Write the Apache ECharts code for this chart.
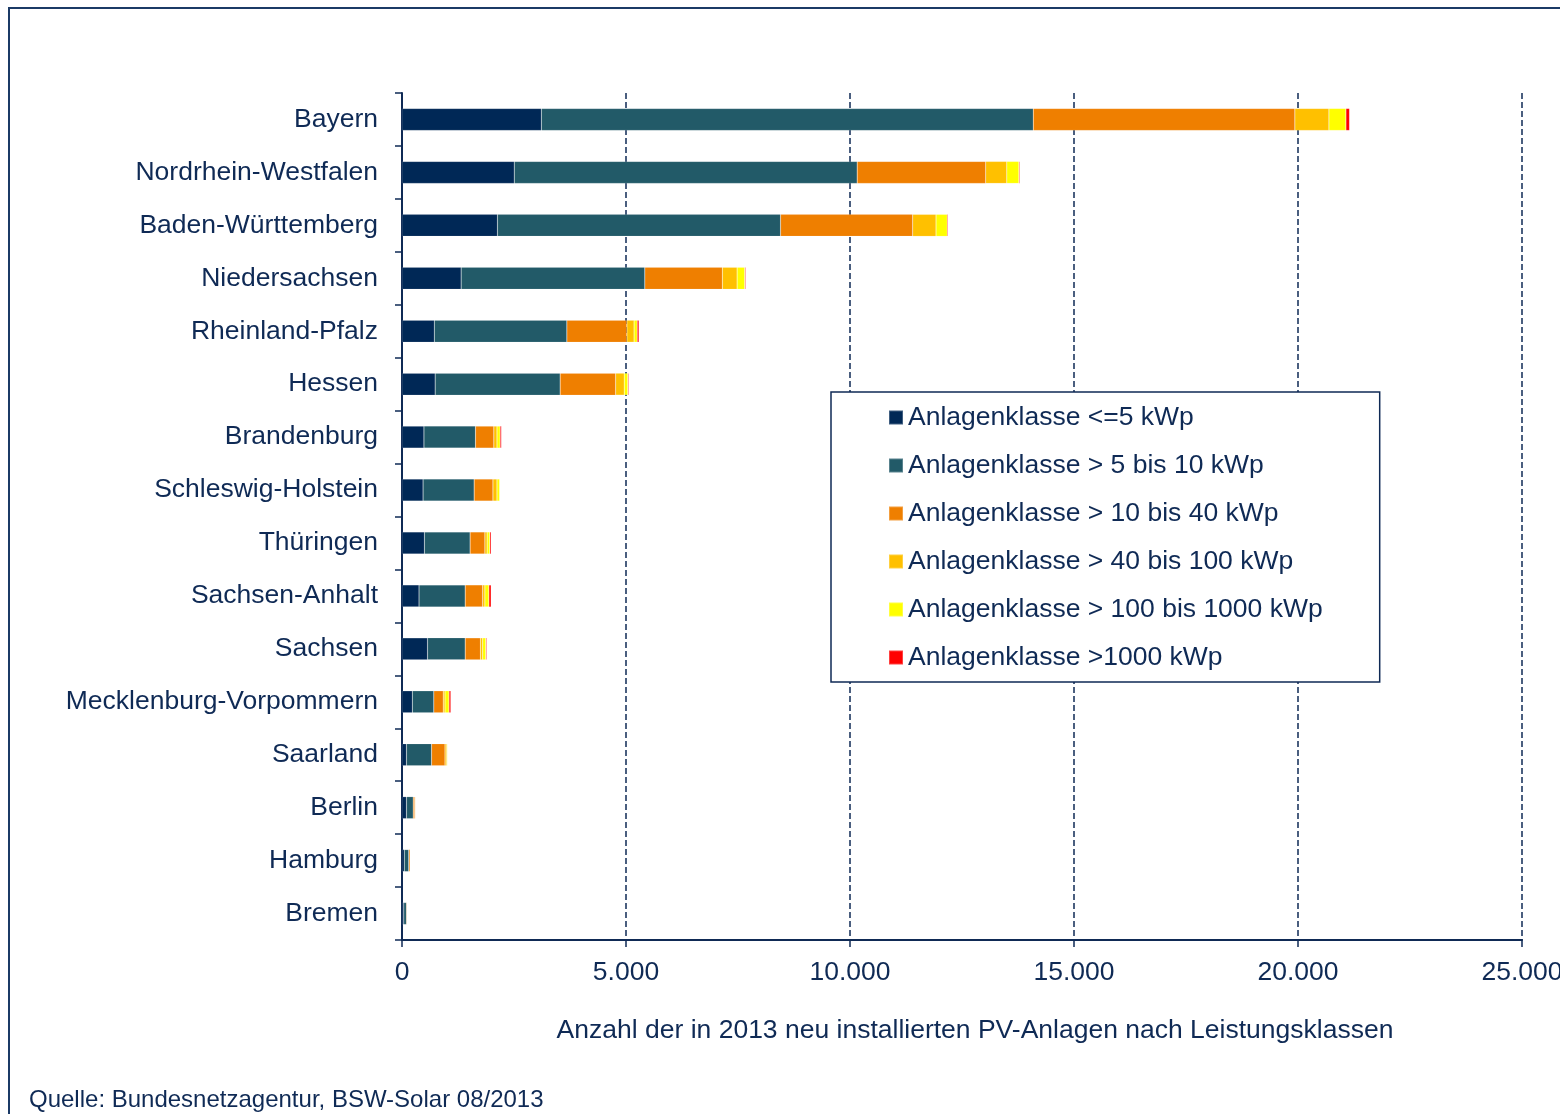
<!DOCTYPE html>
<html>
<head>
<meta charset="utf-8">
<script src="https://cdn.jsdelivr.net/npm/echarts@6/dist/echarts.min.js"></script>
<style>
  html, body { margin: 0; padding: 0; background: #fff; }
  #main { width: 1560px; height: 1114px; }
</style>
</head>
<body>
<div id="main"></div>
<script>
// Bundesländer, von oben nach unten
var laender = ['Bayern', 'Nordrhein-Westfalen', 'Baden-Württemberg', 'Niedersachsen',
  'Rheinland-Pfalz', 'Hessen', 'Brandenburg', 'Schleswig-Holstein', 'Thüringen',
  'Sachsen-Anhalt', 'Sachsen', 'Mecklenburg-Vorpommern', 'Saarland', 'Berlin',
  'Hamburg', 'Bremen'];

// Anzahl neu installierter Anlagen je Leistungsklasse
var bis5     = [3110, 2505, 2130, 1320, 720, 740, 490, 470, 500, 380, 570, 230, 100, 100, 50, 40];
var bis10    = [10980, 7655, 6320, 4100, 2960, 2790, 1150, 1140, 1020, 1030, 840, 480, 560, 150, 100, 60];
var bis40    = [5840, 2870, 2950, 1730, 1340, 1240, 410, 420, 330, 390, 340, 210, 300, 35, 30, 15];
var bis100   = [760, 470, 520, 330, 160, 190, 70, 90, 50, 50, 50, 40, 40, 15, 10, 5];
var bis1000  = [380, 270, 250, 170, 70, 80, 70, 60, 60, 90, 70, 90, 15, 5, 3, 2];
var ueber1000 = [80, 20, 20, 20, 40, 20, 30, 10, 30, 50, 20, 40, 5, 0, 0, 0];

var klassen = ['Anlagenklasse <=5 kWp', 'Anlagenklasse > 5 bis 10 kWp', 'Anlagenklasse > 10 bis 40 kWp',
  'Anlagenklasse > 40 bis 100 kWp', 'Anlagenklasse > 100 bis 1000 kWp', 'Anlagenklasse >1000 kWp'];
var farben = ['#002856', '#225A68', '#EF7F00', '#FFC000', '#FFFF00', '#FF0000'];
var werte = [bis5, bis10, bis40, bis100, bis1000, ueber1000];

var textFarbe = '#0F2A55';
var schrift = 'Liberation Sans, Arial, sans-serif';

var chart = echarts.init(document.getElementById('main'), null, {renderer: 'canvas'});

var series = klassen.map(function(name, i){
  return {
    name: name,
    type: 'bar',
    stack: 'gesamt',
    barWidth: 22,
    data: werte[i],
    itemStyle: {
      color: farben[i],
      borderColor: 'rgba(255,255,255,0.25)',
      borderWidth: 0.5
    },
    emphasis: { disabled: true }
  };
});

chart.setOption({
  animation: false,
  textStyle: { fontFamily: schrift, color: textFarbe },
  grid: { left: 402, right: 38, top: 93, bottom: 174, containLabel: false, outerBoundsMode: 'none' },
  legend: {
    orient: 'vertical',
    left: 831,
    top: 392,
    padding: [12, 57, 11, 57],
    itemGap: 21,
    itemWidth: 14,
    itemHeight: 14,
    backgroundColor: '#fff',
    borderColor: '#0F2A55',
    borderWidth: 1.5,
    borderRadius: 0,
    icon: 'rect',
    selectedMode: false,
    textStyle: { fontSize: 26.5, lineHeight: 24, color: textFarbe, fontFamily: schrift },
    data: klassen
  },
  xAxis: {
    type: 'value',
    min: 0,
    max: 25000,
    interval: 5000,
    axisLine: { show: true, lineStyle: { color: '#0F2A55', width: 2 } },
    axisTick: { show: true, length: 7, lineStyle: { color: '#0F2A55', width: 1.5 } },
    axisLabel: {
      fontSize: 26.5, color: textFarbe, margin: 19, fontFamily: schrift,
      formatter: function(v){ return String(v).replace(/\B(?=(\d{3})+(?!\d))/g, '.'); }
    },
    splitLine: { show: true, lineStyle: { color: '#0F2A55', width: 1.5, type: [6, 3] } }
  },
  yAxis: {
    type: 'category',
    data: laender,
    inverse: true,
    axisLine: { show: true, lineStyle: { color: '#0F2A55', width: 2 } },
    axisTick: { show: true, length: 7, lineStyle: { color: '#0F2A55', width: 1.5 } },
    axisLabel: { fontSize: 26.5, color: textFarbe, margin: 24, fontFamily: schrift }
  },
  series: series,
  graphic: [
    {
      type: 'rect',
      shape: { x: 9, y: 8, width: 1700, height: 1300 },
      style: { fill: 'none', stroke: '#1B3A66', lineWidth: 2 },
      silent: true
    },
    {
      type: 'text',
      x: 975, y: 1031,
      style: {
        text: 'Anzahl der in 2013 neu installierten PV-Anlagen nach Leistungsklassen',
        font: '26.5px ' + schrift, fill: textFarbe, textAlign: 'center', textVerticalAlign: 'middle'
      }
    },
    {
      type: 'text',
      x: 29, y: 1100,
      style: {
        text: 'Quelle: Bundesnetzagentur, BSW-Solar 08/2013',
        font: '24px ' + schrift, fill: textFarbe, textAlign: 'left', textVerticalAlign: 'middle'
      }
    }
  ]
});
</script>
</body>
</html>
